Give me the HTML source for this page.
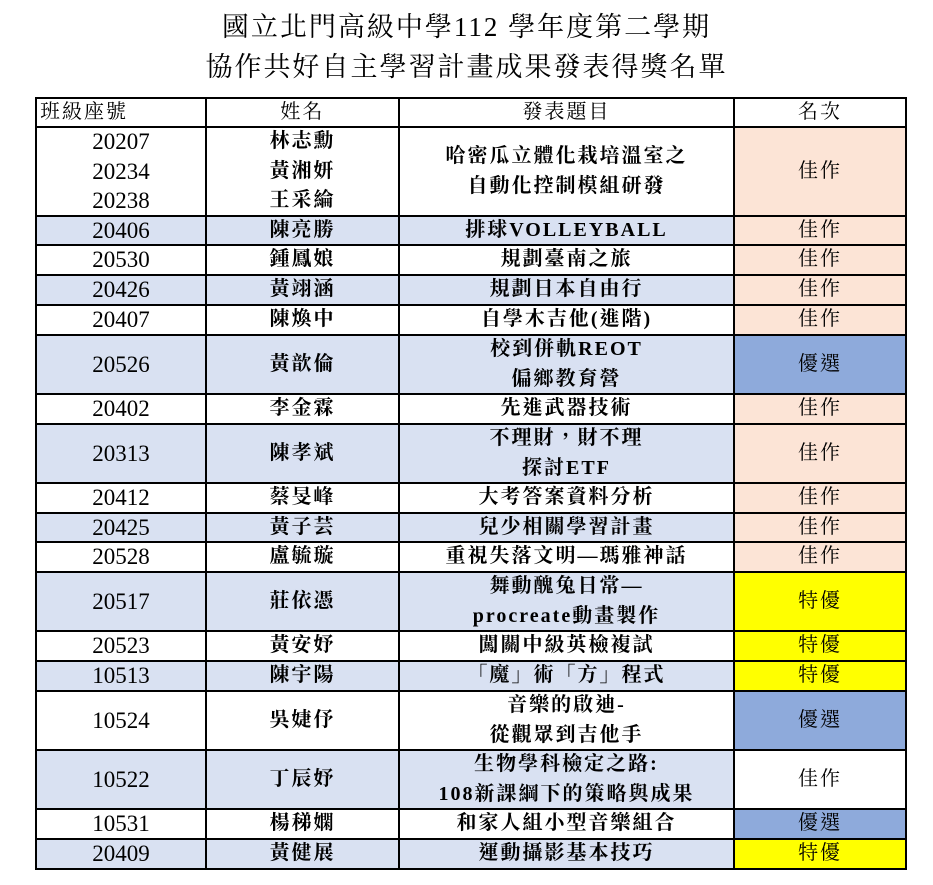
<!DOCTYPE html>
<html><head><meta charset="utf-8"><style>
body{margin:0;width:933px;height:885px;background:#fff;position:relative;overflow:hidden;font-family:"Liberation Serif","Noto Serif CJK TC","Noto Serif CJK SC",serif;color:#000}
.t{position:absolute;left:0;width:933px;text-align:center;font-size:27px;letter-spacing:2px;line-height:34px}
table{position:absolute;left:35px;top:97px;width:870px;border-collapse:collapse;table-layout:fixed}
td{border:2px solid #000;text-align:center;padding:0;font-size:20px;line-height:1;letter-spacing:2px}
td>div{display:flex;align-items:center;justify-content:center;overflow:hidden}
td>div>div{line-height:29.5px;white-space:nowrap}
.r29 td>div{height:27px}.r30 td>div{height:28px}.r59 td>div{height:57px}.r89 td>div{height:87px}
tr:not(.hd) td:not(.p):not(.u):not(.y):not(.w){font-weight:bold}
tr td.n{font-size:23px;letter-spacing:0;font-weight:normal!important}
.b{background:#d9e1f2}.p{background:#fce4d6}.u{background:#8eaadb}.y{background:#ffff00}.w{background:#fff}
</style></head><body>
<div class="t" style="top:10px">國立北門高級中學112 學年度第二學期</div>
<div class="t" style="top:50px">協作共好自主學習計畫成果發表得獎名單</div>
<table>
<colgroup><col style="width:170px"><col style="width:193px"><col style="width:335px"><col style="width:172px"></colgroup>
<tr class="r29 hd"><td><div style="justify-content:flex-start;padding-left:3px"><div>班級座號</div></div></td><td><div><div>姓名</div></div></td><td><div><div>發表題目</div></div></td><td><div><div>名次</div></div></td></tr>
<tr class="r89"><td class="n"><div><div>20207<br>20234<br>20238</div></div></td><td><div><div>林志勳<br>黃湘妍<br>王采綸</div></div></td><td><div><div>哈密瓜立體化栽培溫室之<br>自動化控制模組研發</div></div></td><td class="p"><div><div>佳作</div></div></td></tr>
<tr class="r29 b"><td class="n"><div><div>20406</div></div></td><td><div><div>陳亮勝</div></div></td><td><div><div>排球VOLLEYBALL</div></div></td><td class="p"><div><div>佳作</div></div></td></tr>
<tr class="r30"><td class="n"><div><div>20530</div></div></td><td><div><div>鍾鳳娘</div></div></td><td><div><div>規劃臺南之旅</div></div></td><td class="p"><div><div>佳作</div></div></td></tr>
<tr class="r30 b"><td class="n"><div><div>20426</div></div></td><td><div><div>黃翊涵</div></div></td><td><div><div>規劃日本自由行</div></div></td><td class="p"><div><div>佳作</div></div></td></tr>
<tr class="r30"><td class="n"><div><div>20407</div></div></td><td><div><div>陳煥中</div></div></td><td><div><div>自學木吉他(進階)</div></div></td><td class="p"><div><div>佳作</div></div></td></tr>
<tr class="r59 b"><td class="n"><div><div>20526</div></div></td><td><div><div>黃歆倫</div></div></td><td><div><div>校到併軌REOT<br>偏鄉教育營</div></div></td><td class="u"><div><div>優選</div></div></td></tr>
<tr class="r30"><td class="n"><div><div>20402</div></div></td><td><div><div>李金霖</div></div></td><td><div><div>先進武器技術</div></div></td><td class="p"><div><div>佳作</div></div></td></tr>
<tr class="r59 b"><td class="n"><div><div>20313</div></div></td><td><div><div>陳孝斌</div></div></td><td><div><div>不理財，財不理<br>探討ETF</div></div></td><td class="p"><div><div>佳作</div></div></td></tr>
<tr class="r30"><td class="n"><div><div>20412</div></div></td><td><div><div>蔡旻峰</div></div></td><td><div><div>大考答案資料分析</div></div></td><td class="p"><div><div>佳作</div></div></td></tr>
<tr class="r29 b"><td class="n"><div><div>20425</div></div></td><td><div><div>黃子芸</div></div></td><td><div><div>兒少相關學習計畫</div></div></td><td class="p"><div><div>佳作</div></div></td></tr>
<tr class="r30"><td class="n"><div><div>20528</div></div></td><td><div><div>盧毓璇</div></div></td><td><div><div>重視失落文明—瑪雅神話</div></div></td><td class="p"><div><div>佳作</div></div></td></tr>
<tr class="r59 b"><td class="n"><div><div>20517</div></div></td><td><div><div>莊依憑</div></div></td><td><div><div>舞動醜兔日常—<br>procreate動畫製作</div></div></td><td class="y"><div><div>特優</div></div></td></tr>
<tr class="r30"><td class="n"><div><div>20523</div></div></td><td><div><div>黃安妤</div></div></td><td><div><div>闖關中級英檢複試</div></div></td><td class="y"><div><div>特優</div></div></td></tr>
<tr class="r30 b"><td class="n"><div><div>10513</div></div></td><td><div><div>陳宇陽</div></div></td><td><div><div>「魔」術「方」程式</div></div></td><td class="y"><div><div>特優</div></div></td></tr>
<tr class="r59"><td class="n"><div><div>10524</div></div></td><td><div><div>吳婕伃</div></div></td><td><div><div>音樂的啟迪-<br>從觀眾到吉他手</div></div></td><td class="u"><div><div>優選</div></div></td></tr>
<tr class="r59 b"><td class="n"><div><div>10522</div></div></td><td><div><div>丁辰妤</div></div></td><td><div><div>生物學科檢定之路:<br>108新課綱下的策略與成果</div></div></td><td class="w"><div><div>佳作</div></div></td></tr>
<tr class="r30"><td class="n"><div><div>10531</div></div></td><td><div><div>楊稊嫻</div></div></td><td><div><div>和家人組小型音樂組合</div></div></td><td class="u"><div><div>優選</div></div></td></tr>
<tr class="r30 b"><td class="n"><div><div>20409</div></div></td><td><div><div>黃健展</div></div></td><td><div><div>運動攝影基本技巧</div></div></td><td class="y"><div><div>特優</div></div></td></tr>
</table>
</body></html>
